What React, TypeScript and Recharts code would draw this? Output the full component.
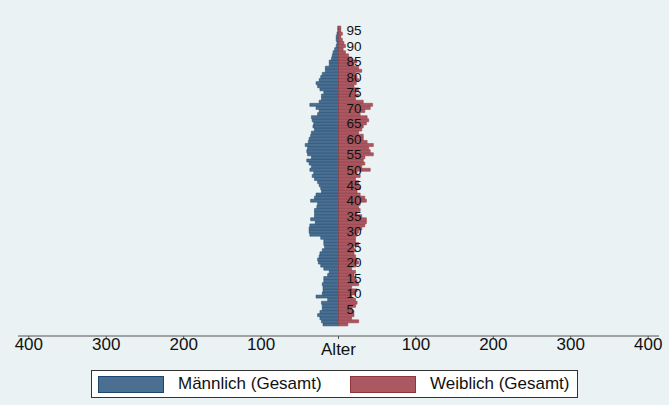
import { BarChart, Bar, XAxis, YAxis, LabelList } from "recharts";

// Alter 0..96
const ages = Array.from({ length: 97 }, (_, i) => i);

const maleCounts = [
  20, 22, 24, 27, 24, 21, 21, 22, 14, 29,
  21, 20, 20, 21, 19, 19, 14, 12, 19, 23,
  26, 27, 25, 24, 21, 18, 19, 19, 23, 37,
  38, 38, 37, 30, 36, 31, 31, 31, 28, 27,
  36, 31, 29, 22, 23, 25, 27, 31, 34, 32,
  37, 35, 38, 41, 35, 40, 41, 40, 43, 39,
  38, 36, 35, 31, 33, 32, 34, 35, 27, 25,
  29, 37, 25, 22, 22, 19, 24, 27, 29, 25,
  23, 21, 17, 17, 12, 12, 9, 8, 7, 5,
  3, 2, 3, 3, 2, 1, 1,
];

const femaleCounts = [
  12, 26, 17, 20, 20, 17, 22, 24, 22, 17,
  22, 24, 17, 26, 24, 22, 20, 22, 17, 22,
  26, 24, 22, 20, 22, 20, 26, 22, 22, 24,
  26, 30, 34, 36, 36, 30, 24, 28, 26, 28,
  36, 34, 28, 24, 28, 26, 26, 22, 28, 24,
  41, 30, 34, 32, 34, 45, 41, 39, 45, 37,
  32, 32, 26, 30, 32, 36, 39, 37, 28, 34,
  41, 44, 32, 22, 26, 22, 26, 20, 23, 26,
  24, 22, 30, 26, 20, 24, 17, 13, 9, 6,
  9, 7, 5, 3, 5, 3, 3,
];

const xTicks = [-400, -300, -200, -100, 0, 100, 200, 300, 400];
const maleName = "Männlich (Gesamt)";
const femaleName = "Weiblich (Gesamt)";
const centerLabel = "Alter";

const data = ages.map((age, i) => ({
  age,
  male: -maleCounts[i],
  female: femaleCounts[i],
}));

const FONT = "'Liberation Sans', Arial, Helvetica, sans-serif";
const BG = "#eaf2f3";
const MALE_FILL = "#4a6f91";
const MALE_LINE = "#1a476f";
const FEMALE_FILL = "#ab5862";
const FEMALE_LINE = "#90353b";

function AxisTick(props: any) {
  const { x, y, payload } = props;
  const v = payload.value;
  return (
    <text
      x={x}
      y={y}
      dy={v === 0 ? 16 : 11}
      textAnchor="middle"
      fontSize={17}
      fontFamily={FONT}
      fill="#111"
    >
      {v === 0 ? centerLabel : String(Math.abs(v))}
    </text>
  );
}

function AgeLabel(props: any) {
  const { x, y, height, value } = props;
  if (value === 0 || value % 5 !== 0) return null;
  return (
    <text
      x={x + 8}
      y={y + height / 2}
      dy={4.8}
      fontSize={13.5}
      fontFamily={FONT}
      fill="#111"
    >
      {value}
    </text>
  );
}

function Swatch({ fill, stroke }: { fill: string; stroke: string }) {
  return (
    <div
      style={{
        width: 64,
        height: 15,
        background: fill,
        border: `1px solid ${stroke}`,
      }}
    />
  );
}

export default function App() {
  return (
    <div
      style={{
        position: "relative",
        width: 669,
        height: 405,
        background: BG,
        fontFamily: FONT,
      }}
    >
      <style>{"body{margin:0;}"}</style>
      <BarChart
        width={669}
        height={405}
        data={data}
        layout="vertical"
        stackOffset="sign"
        barCategoryGap={0}
        margin={{ top: 26, right: 10, left: 18, bottom: 39 }}
      >
        <XAxis
          type="number"
          domain={[-414, 414]}
          ticks={xTicks}
          tick={<AxisTick />}
          tickSize={3}
          tickMargin={0}
          height={30}
          axisLine={{ stroke: "#555", strokeWidth: 1 }}
          tickLine={{ stroke: "#555" }}
          interval={0}
        />
        <YAxis
          type="category"
          dataKey="age"
          reversed
          hide
          width={0}
          padding={{ top: 0, bottom: 10 }}
        />
        <Bar
          dataKey="male"
          stackId="p"
          fill={MALE_FILL}
          stroke={MALE_LINE}
          strokeWidth={0.5}
          isAnimationActive={false}
        />
        <Bar
          dataKey="female"
          stackId="p"
          fill={FEMALE_FILL}
          stroke={FEMALE_LINE}
          strokeWidth={0.5}
          isAnimationActive={false}
        >
          <LabelList dataKey="age" content={<AgeLabel />} />
        </Bar>
      </BarChart>
      <div
        style={{
          position: "absolute",
          left: 91,
          top: 370,
          width: 485,
          height: 26,
          background: "#fff",
          border: "1px solid #333",
          display: "flex",
          alignItems: "center",
          fontSize: 17,
          color: "#111",
        }}
      >
        <div style={{ marginLeft: 6 }}>
          <Swatch fill={MALE_FILL} stroke={MALE_LINE} />
        </div>
        <span style={{ marginLeft: 14 }}>{maleName}</span>
        <div style={{ position: "absolute", left: 258 }}>
          <Swatch fill={FEMALE_FILL} stroke={FEMALE_LINE} />
        </div>
        <span style={{ position: "absolute", left: 338 }}>{femaleName}</span>
      </div>
    </div>
  );
}
